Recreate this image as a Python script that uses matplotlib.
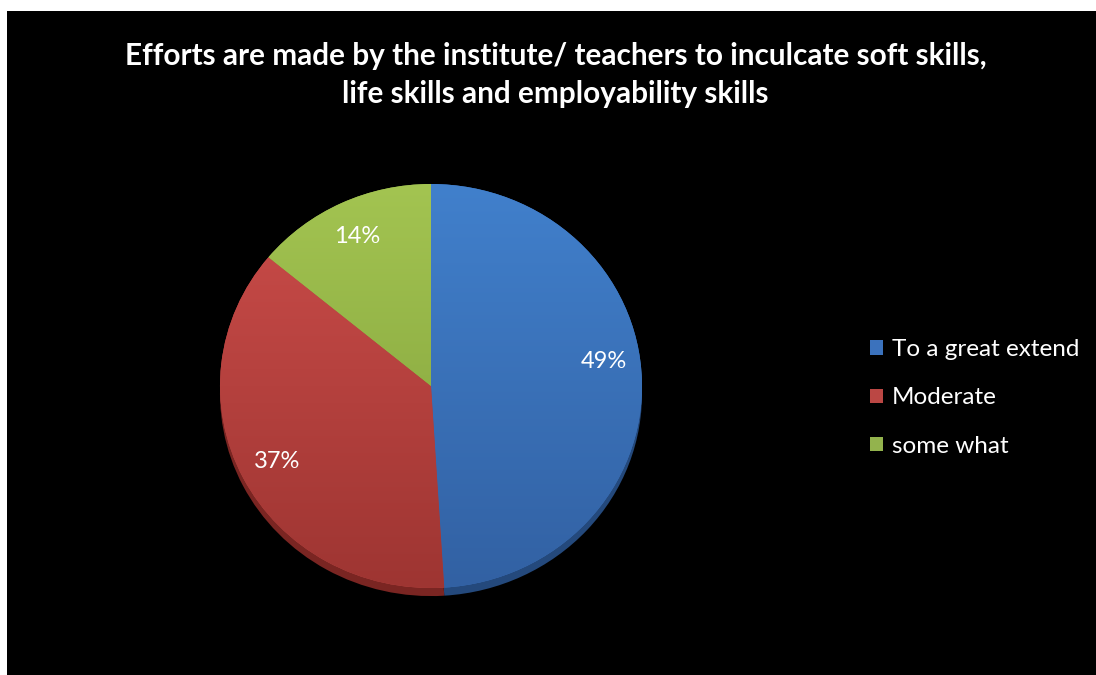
import numpy as np
import matplotlib.pyplot as plt
from matplotlib.patches import Rectangle, Patch
from matplotlib.colors import LinearSegmentedColormap

labels = ["To a great extend", "Moderate", "some what"]
shares = [49, 37, 14]
colors = ["#3b72bd", "#bb4744", "#93b34d"]
top_colors = ["#4180cc", "#cc4d4a", "#a3c451"]
bottom_colors = ["#3261a3", "#9e3532", "#7f9e3a"]
rim_colors = ["#24497c", "#7a2522", "#5d7a2a"]
title = ("Efforts are made by the institute/ teachers to inculcate soft skills,\n"
         "life skills and employability skills")

plt.rcParams['font.family'] = ['Lato', 'DejaVu Sans']

fig = plt.figure(figsize=(10.96, 6.75), dpi=100, facecolor="white")
# black chart area with the thin white margin seen on the top and left
fig.patches.append(Rectangle((7 / 1096, 0), 1, 1 - 11 / 675,
                             transform=fig.transFigure, facecolor="black",
                             edgecolor="none", zorder=-5))

ry = 202
ax = fig.add_axes([(431 - 211) / 1096, 1 - (184 + 2.04 * ry) / 675,
                   422 / 1096, 2.04 * ry / 675])
ax.set_facecolor("none")
ax.set_zorder(2)

# darker copy underneath for the slight 3-D rim
ax.pie(shares, colors=rim_colors, startangle=90, counterclock=False,
       center=(0, -0.04), wedgeprops=dict(linewidth=0))
wedges, texts, autotexts = ax.pie(
    shares, colors=colors, startangle=90, counterclock=False,
    autopct=lambda p: f"{p:.0f}%", pctdistance=0.82,
    wedgeprops=dict(linewidth=0),
    textprops=dict(color="white", fontsize=17, zorder=5))
autotexts[0].set_position((0.82, 0.12))

# vertical shading on each slice, like the original's gradient fill
grad = np.linspace(0, 1, 256).reshape(-1, 1)
for w, c_top, c_bot in zip(wedges, top_colors, bottom_colors):
    cmap = LinearSegmentedColormap.from_list("g", [c_top, c_bot])
    im = ax.imshow(grad, cmap=cmap, extent=(-1, 1, -1, 1),
                   origin="upper", aspect="auto", zorder=w.get_zorder() + 0.1)
    im.set_clip_path(w)

ax.set_xlim(-1, 1)
ax.set_ylim(-1.04, 1)
ax.set_aspect("auto")
ax.axis("off")

fig.text(0.507, 1 - 75 / 675, title, ha="center", va="center",
         color="white", fontsize=21.4, fontweight="bold", linespacing=1.45,
         zorder=3)

handles = [Patch(facecolor=c, edgecolor="none") for c in colors]
leg = fig.legend(handles, labels, loc="center left",
                 bbox_to_anchor=(848 / 1096, 1 - 398 / 675), frameon=False,
                 labelcolor="white", fontsize=17.5, handlelength=0.55,
                 handleheight=0.55, handletextpad=0.35, labelspacing=1.12)
leg.set_zorder(3)

fig.savefig("out.png", dpi=100, facecolor=fig.get_facecolor())
